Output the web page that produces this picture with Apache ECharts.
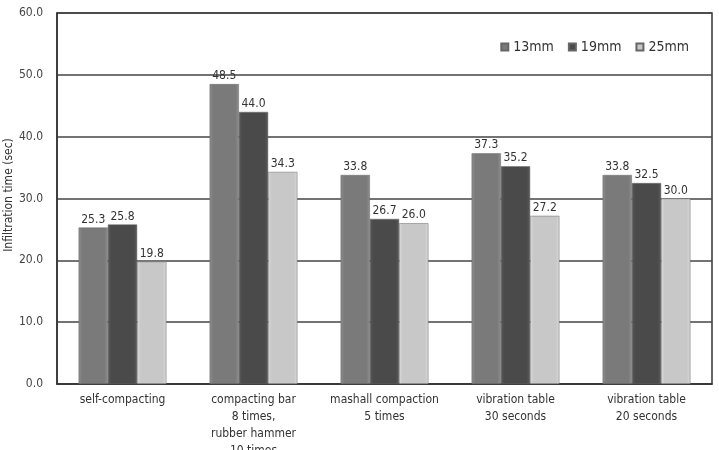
<!DOCTYPE html>
<html>
<head>
<meta charset="utf-8">
<script src="https://cdn.jsdelivr.net/npm/echarts@6/dist/echarts.min.js"></script>
<style>
  html, body { margin: 0; padding: 0; background: #fff; }
  #chart { width: 719px; height: 450px; }
</style>
</head>
<body>
<div id="chart"></div>
<script>
// data
var categories = [
  'self-compacting',
  'compacting bar\n8 times,\nrubber hammer\n10 times',
  'mashall compaction\n5 times',
  'vibration table\n30 seconds',
  'vibration table\n20 seconds'
];
var seriesNames = ['13mm', '19mm', '25mm'];
var values13 = [25.3, 48.5, 33.8, 37.3, 33.8];
var values19 = [25.8, 44.0, 26.7, 35.2, 32.5];
var values25 = [19.8, 34.3, 26.0, 27.2, 30.0];
var yTitle = 'Infiltration time (sec)';

var FONT = '"DejaVu Sans Condensed", "Liberation Sans", sans-serif';

function grad(edge, mid) {
  return new echarts.graphic.LinearGradient(0, 0, 1, 0, [
    { offset: 0, color: edge },
    { offset: 0.12, color: mid },
    { offset: 0.88, color: mid },
    { offset: 1, color: edge }
  ]);
}
var fills = [grad('#8e8e8e', '#7a7a7a'), grad('#5a5a5a', '#4a4a4a'), grad('#dadada', '#c8c8c8')];
var legendColors = ['#7a7a7a', '#4a4a4a', '#c8c8c8'];

var chart = echarts.init(document.getElementById('chart'));

function makeSeries(name, data, i) {
  return {
    name: name,
    type: 'bar',
    data: data,
    barGap: '0%',
    barCategoryGap: '33%',
    itemStyle: { color: fills[i], borderColor: '#666', borderWidth: 0.5 },
    label: {
      show: true,
      position: 'top',
      distance: 2,
      formatter: function (p) { return p.value.toFixed(1); },
      color: '#333',
      fontSize: 12,
      fontFamily: FONT
    }
  };
}

var option = {
  animation: false,
  color: legendColors,
  grid: {
    left: 57, right: 7, top: 13, bottom: 66,
    containLabel: false, outerBoundsMode: 'none',
    show: true, borderColor: '#333', borderWidth: 1.5
  },
  // y axis title, placed by hand at the left edge
  graphic: [{
    type: 'text',
    x: 9,
    y: 195,
    rotation: Math.PI / 2,
    style: {
      text: yTitle,
      fill: '#333',
      font: '12px ' + FONT,
      align: 'center',
      verticalAlign: 'middle'
    }
  }],
  legend: {
    data: seriesNames,
    top: 35,
    right: 25,
    itemWidth: 7,
    itemHeight: 7,
    itemGap: 14,
    icon: 'rect',
    textStyle: { fontSize: 14, color: '#333', fontFamily: FONT }
  },
  xAxis: {
    type: 'category',
    data: categories,
    axisLine: { show: true, lineStyle: { color: '#333', width: 1.5 } },
    axisTick: { show: false },
    axisLabel: { interval: 0, color: '#333', fontSize: 12, lineHeight: 17, margin: 7, fontFamily: FONT }
  },
  yAxis: {
    type: 'value',
    min: 0,
    max: 60,
    interval: 10,
    axisLine: { show: true, lineStyle: { color: '#333', width: 1.5 } },
    axisTick: { show: false },
    axisLabel: { color: '#444', fontSize: 12, margin: 14, fontFamily: FONT, formatter: function (v) { return v.toFixed(1); } },
    splitLine: { lineStyle: { color: '#444', width: 1.5 } }
  },
  series: [
    makeSeries(seriesNames[0], values13, 0),
    makeSeries(seriesNames[1], values19, 1),
    makeSeries(seriesNames[2], values25, 2)
  ]
};

chart.setOption(option);
</script>
</body>
</html>
